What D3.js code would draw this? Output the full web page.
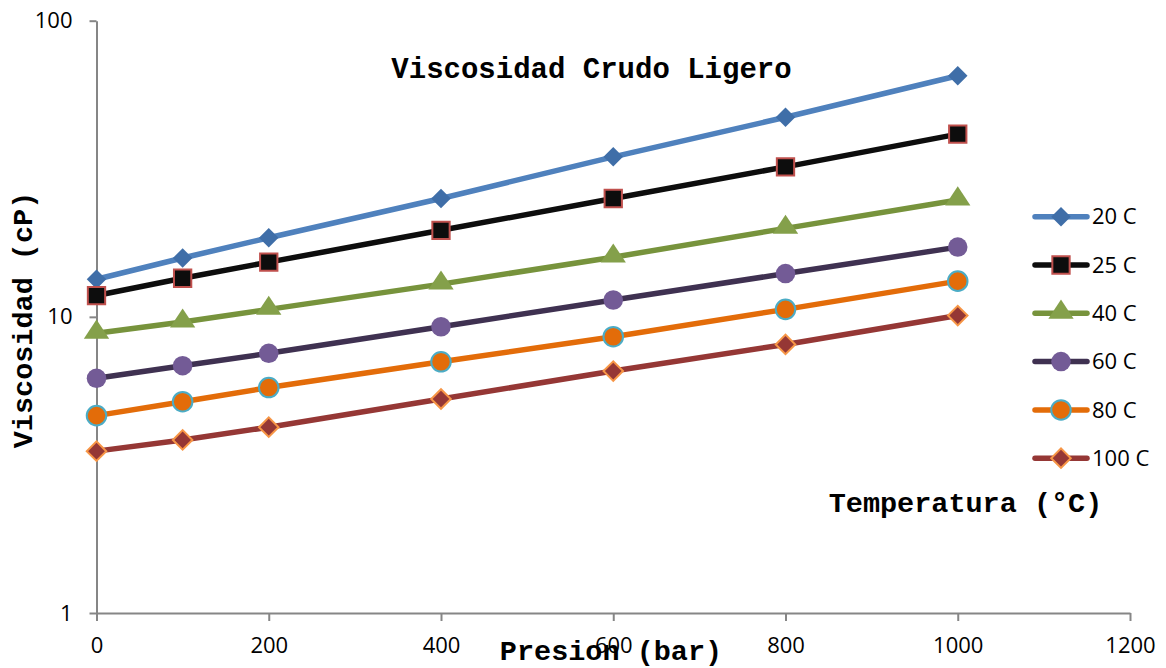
<!DOCTYPE html>
<html>
<head>
<meta charset="utf-8">
<script src="https://cdn.jsdelivr.net/npm/d3@7/dist/d3.min.js"></script>
<style>
  html, body { margin: 0; padding: 0; background: #fff; }
  svg { display: block; }
  .tick text { font-family: "Open Sans", "Liberation Sans", sans-serif; font-size: 22px; fill: #000; }
  .mono { font-family: "Courier New", "Nimbus Mono PS", "FreeMono", "Liberation Mono", monospace; font-weight: bold; font-size: 28.5px; fill: #000; }
  .leg { font-family: "Open Sans", "Liberation Sans", sans-serif; font-size: 22px; fill: #000; }
</style>
</head>
<body>
<svg id="chart" width="1166" height="668"></svg>
<script>
// Pressure (bar) on the x axis
const presion = [0, 100, 200, 400, 600, 800, 1000];

// Viscosity (cP) for each temperature
const v20  = [13.4, 15.8, 18.5, 25.1, 34.7, 47.2, 65.2];
const v25  = [11.8, 13.5, 15.3, 19.6, 25.1, 32.1, 41.4];
const v40  = [8.8, 9.6, 10.6, 12.9, 15.9, 19.9, 24.8];
const v60  = [6.2, 6.84, 7.53, 9.26, 11.4, 14.0, 17.2];
const v80  = [4.64, 5.17, 5.77, 7.05, 8.57, 10.6, 13.2];
const v100 = [3.52, 3.84, 4.24, 5.28, 6.56, 8.07, 10.1];

const seriesNames = ["20 C", "25 C", "40 C", "60 C", "80 C", "100 C"];
const xTicks = [0, 200, 400, 600, 800, 1000, 1200];
const yTicks = [1, 10, 100];

const styles = [
  { line: "#4f81bd", fill: "#3f6ea8", stroke: "none",    shape: "diamond" },
  { line: "#0d0d0d", fill: "#0d0d0d", stroke: "#c0504d", shape: "square" },
  { line: "#77933c", fill: "#84a04a", stroke: "none",    shape: "triangle" },
  { line: "#3f3151", fill: "#735b96", stroke: "none",    shape: "circle" },
  { line: "#e36c09", fill: "#e36c09", stroke: "#4bacc6", shape: "circle" },
  { line: "#953735", fill: "#953735", stroke: "#f79646", shape: "diamond" }
];

const series = [v20, v25, v40, v60, v80, v100].map((vals, i) => ({
  name: seriesNames[i],
  points: presion.map((p, j) => ({ x: p, y: vals[j] })),
  style: styles[i]
}));

const svg = d3.select("#chart");

const x = d3.scaleLinear().domain([0, 1200]).range([96.5, 1130]);
const y = d3.scaleLog().domain([1, 100]).range([613, 20.7]);

// Axes
const axisColor = "#868686";
const gx = svg.append("g").attr("transform", `translate(0,${y(1)})`)
  .call(d3.axisBottom(x).tickValues(xTicks).tickFormat(d3.format("d"))
    .tickSize(8).tickSizeOuter(0).tickPadding(16));
const gy = svg.append("g").attr("transform", `translate(${x(0)},0)`)
  .call(d3.axisLeft(y).tickValues(yTicks).tickFormat(d3.format("d"))
    .tickSize(7).tickSizeOuter(0).tickPadding(17));
[gx, gy].forEach(g => {
  g.select(".domain").attr("stroke", axisColor).attr("stroke-width", 2);
  g.selectAll(".tick line").attr("stroke", axisColor).attr("stroke-width", 2);
});

// Marker shapes
const symbolFor = {
  diamond: d3.symbol().type(d3.symbolSquare).size(190),
  square: d3.symbol().type(d3.symbolSquare).size(300),
  triangle: d3.symbol().type(d3.symbolTriangle).size(210),
  circle: d3.symbol().type(d3.symbolCircle).size(300)
};
function drawMarker(sel, st) {
  const p = sel.append("path")
    .attr("d", symbolFor[st.shape]())
    .attr("fill", st.fill)
    .attr("stroke", st.stroke)
    .attr("stroke-width", st.stroke === "none" ? 0 : 2);
  if (st.shape === "diamond") p.attr("transform", "rotate(45)");
  if (st.shape === "triangle") p.attr("transform", "translate(0,-1) scale(1.15,1)");
  return p;
}

const line = d3.line().x(d => x(d.x)).y(d => y(d.y));

series.forEach(s => {
  const g = svg.append("g");
  g.append("path")
    .attr("d", line(s.points))
    .attr("fill", "none")
    .attr("stroke", s.style.line)
    .attr("stroke-width", 5.5)
    .attr("stroke-linejoin", "round");
  g.selectAll("g.m").data(s.points).join("g")
    .attr("class", "m")
    .attr("transform", d => `translate(${x(d.x)},${y(d.y)})`)
    .each(function () { drawMarker(d3.select(this), s.style); });
});

// Legend
const legend = svg.append("g");
series.forEach((s, i) => {
  const ly = 216.7 + i * 48.3;
  const row = legend.append("g").attr("transform", `translate(0,${ly})`);
  row.append("line").attr("x1", 1035).attr("x2", 1087)
    .attr("stroke", s.style.line).attr("stroke-width", 5.5).attr("stroke-linecap", "round");
  const m = row.append("g").attr("transform", "translate(1061,0)");
  drawMarker(m, s.style);
  row.append("text").attr("class", "leg").attr("x", 1092).attr("y", 0).attr("dy", "0.35em").text(s.name);
});

// Titles
svg.append("text").attr("class", "mono").attr("x", 591.5).attr("y", 78)
  .attr("text-anchor", "middle").style("font-size", "29px").text("Viscosidad Crudo Ligero");
svg.append("text").attr("class", "mono").attr("x", 965.5).attr("y", 512)
  .attr("text-anchor", "middle").text("Temperatura (°C)");
svg.append("text").attr("class", "mono").attr("x", 611).attr("y", 660)
  .attr("text-anchor", "middle").text("Presion (bar)");
svg.append("text").attr("class", "mono")
  .attr("transform", "translate(32,320) rotate(-90)")
  .attr("text-anchor", "middle").text("Viscosidad (cP)");
</script>
</body>
</html>
